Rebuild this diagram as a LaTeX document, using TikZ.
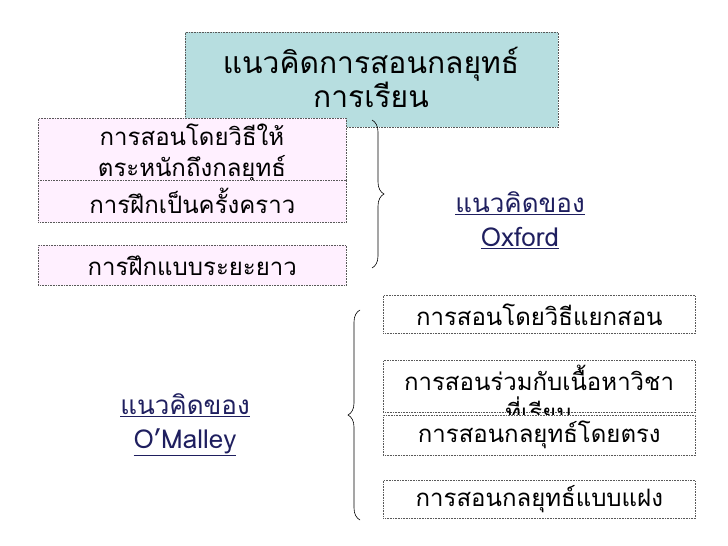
\documentclass[tikz,border=0pt]{standalone}
\usepackage{fontspec}
\setmainfont[Script=Thai]{Loma}
\usetikzlibrary{decorations.pathreplacing}
\definecolor{ttl}{HTML}{B7DEE0}
\definecolor{pnk}{HTML}{FFF0FF}
\definecolor{lbl}{HTML}{1F1F5F}
\tikzset{
 bx/.style={draw=gray!70!black,densely dotted,line width=0.6pt,minimum width=#1,inner sep=0pt,align=center,font=\fontsize{24}{30}\selectfont,anchor=north west},
 br/.style={decorate,decoration={brace,amplitude=12pt},line width=0.6pt},
 lab/.style={align=center,text=lbl,font=\fontsize{26}{34}\selectfont}
}
\begin{document}
\begin{tikzpicture}[x=1pt,y=-1pt]
\useasboundingbox (0,0) rectangle (728,546);
\node[bx=373pt,fill=ttl,minimum height=95pt] (t) at (185,32) {};
\node[align=center,font=\fontsize{30}{34}\selectfont,anchor=north] (tt) at (371,44) {แนวคิดการสอนกลยุทธ์\\การเรียน};
\node[bx=308pt,fill=pnk,minimum height=62pt] (p1) at (38,118) {};
\node[align=center,font=\fontsize{24}{31}\selectfont,anchor=north] (p1t) at (192,120) {การสอนโดยวิธีให้\\ตระหนักถึงกลยุทธ์};
\node[bx=308pt,fill=pnk,minimum height=42pt] (p2) at (38,180) {การฝึกเป็นครั้งคราว};
\node[bx=308pt,fill=pnk,minimum height=40pt] (p3) at (38,245) {การฝึกแบบระยะยาว};
\draw[br] (372,120) -- (372,268);
\node[lab] (ox) at (520,220) {\underline{แนวคิดของ}\\\underline{Oxford}};
\node[bx=312pt,fill=white,minimum height=38pt] (r1) at (383,295) {การสอนโดยวิธีแยกสอน};
\node[bx=312pt,fill=white,minimum height=52pt] (r2) at (383,360) {};
\node[align=center,font=\fontsize{24}{31}\selectfont,anchor=north] (r2t) at (539,362) {การสอนร่วมกับเนื้อหาวิชา\\ที่เรียน};
\node[bx=312pt,fill=white,minimum height=40pt] (r3) at (383,415) {การสอนกลยุทธ์โดยตรง};
\node[bx=312pt,fill=white,minimum height=38pt] (r4) at (383,480) {การสอนกลยุทธ์แบบแฝง};
\draw[br] (360,520) -- (360,310);
\node[lab] (om) at (185,425) {\underline{แนวคิดของ}\\\underline{O’Malley}};
\end{tikzpicture}
\end{document}
